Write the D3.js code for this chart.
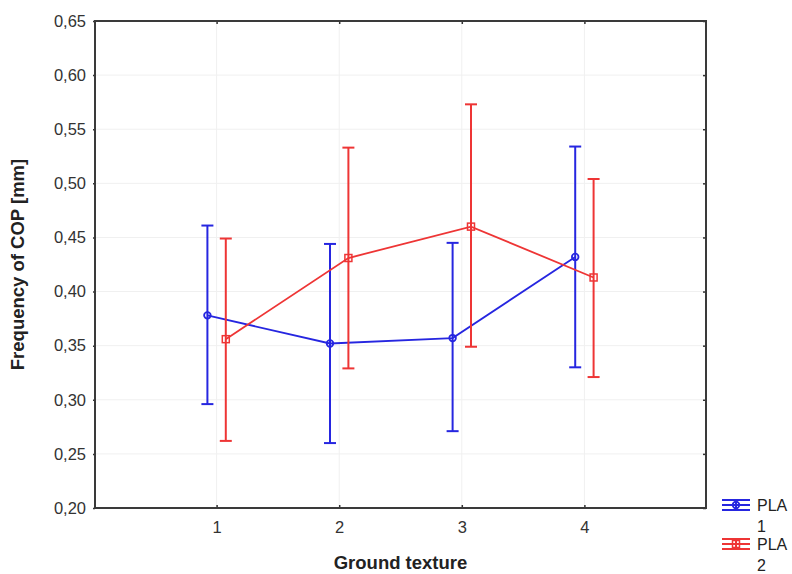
<!DOCTYPE html>
<html>
<head>
<meta charset="utf-8">
<script src="https://cdn.jsdelivr.net/npm/d3@7"></script>
<style>
  body { margin: 0; background: #fff; }
  text { font-family: "Liberation Sans", Arial, sans-serif; }
</style>
</head>
<body>
<div id="chart"></div>
<script>
// data
const categories = [1, 2, 3, 4];
const seriesNames = ['PLA\n1', 'PLA\n2'];
const pla1Mean = [0.378, 0.352, 0.357, 0.432];
const pla1Low = [0.296, 0.260, 0.271, 0.330];
const pla1High = [0.461, 0.444, 0.445, 0.534];
const pla2Mean = [0.356, 0.431, 0.460, 0.413];
const pla2Low = [0.262, 0.329, 0.349, 0.321];
const pla2High = [0.449, 0.533, 0.573, 0.504];
const yTicks = [0.20, 0.25, 0.30, 0.35, 0.40, 0.45, 0.50, 0.55, 0.60, 0.65];

const width = 792, height = 574;
const margin = { top: 21, right: 86, bottom: 66, left: 95 };

const blue = '#2626e0', red = '#ee3535';

const series = [
  { name: 'PLA 1', color: blue, shape: 'circle', offset: -0.075, mean: pla1Mean, low: pla1Low, high: pla1High },
  { name: 'PLA 2', color: red, shape: 'square', offset: 0.075, mean: pla2Mean, low: pla2Low, high: pla2High }
];

const x_scale = d3.scaleLinear()
  .domain([0, 5])
  .range([margin.left - 1, width - margin.right + 1]);
const y_scale = d3.scaleLinear()
  .domain([0.20, 0.65])
  .range([height - margin.bottom, margin.top]);

const comma = (v) => d3.format('.2f')(v).replace('.', ',');

const svg = d3.select('#chart').append('svg')
  .attr('width', width)
  .attr('height', height);

// light grid
svg.append('g')
  .selectAll('line.h')
  .data(yTicks)
  .enter().append('line')
  .attr('x1', margin.left).attr('x2', width - margin.right)
  .attr('y1', (d) => y_scale(d)).attr('y2', (d) => y_scale(d))
  .attr('stroke', '#f0f0f0');
svg.append('g')
  .selectAll('line.v')
  .data(categories)
  .enter().append('line')
  .attr('x1', (d) => x_scale(d)).attr('x2', (d) => x_scale(d))
  .attr('y1', margin.top).attr('y2', height - margin.bottom)
  .attr('stroke', '#f0f0f0');

// axes
const yAxis = svg.append('g')
  .attr('transform', 'translate(' + margin.left + ',0)')
  .call(d3.axisLeft(y_scale).tickValues(yTicks).tickFormat(comma).tickSize(2).tickPadding(7));
const yAxisR = svg.append('g')
  .attr('transform', 'translate(' + (width - margin.right) + ',0)')
  .call(d3.axisRight(y_scale).tickValues(yTicks).tickFormat('').tickSize(-3));
const xAxis = svg.append('g')
  .attr('transform', 'translate(0,' + (height - margin.bottom) + ')')
  .call(d3.axisBottom(x_scale).tickValues(categories).tickFormat(d3.format('d')).tickSize(-3).tickPadding(13));
const xAxisT = svg.append('g')
  .attr('transform', 'translate(0,' + margin.top + ')')
  .call(d3.axisTop(x_scale).tickValues(categories).tickFormat('').tickSize(-3));

[yAxis, yAxisR, xAxis, xAxisT].forEach((a) => {
  a.select('.domain').remove();
  a.selectAll('.tick line').attr('stroke', '#333').attr('stroke-width', 1.5);
  a.selectAll('.tick text').attr('fill', '#333').style('font-size', '16.5px');
});

// frame
svg.append('rect')
  .attr('x', margin.left)
  .attr('y', margin.top)
  .attr('width', width - margin.left - margin.right)
  .attr('height', height - margin.top - margin.bottom)
  .attr('fill', 'none')
  .attr('stroke', '#3a3a3a')
  .attr('stroke-width', 2);

// titles
svg.append('text')
  .attr('x', x_scale(2.5))
  .attr('y', 569)
  .attr('text-anchor', 'middle')
  .attr('font-weight', 'bold')
  .attr('fill', '#222')
  .style('font-size', '18.5px')
  .text('Ground texture');
svg.append('text')
  .attr('transform', 'translate(24,' + y_scale(0.425) + ') rotate(-90)')
  .attr('text-anchor', 'middle')
  .attr('font-weight', 'bold')
  .attr('fill', '#222')
  .style('font-size', '18.5px')
  .text('Frequency of COP [mm]');

// series
const line = d3.line()
  .x((d) => x_scale(d.x))
  .y((d) => y_scale(d.y));

series.forEach((s) => {
  const pts = categories.map((c, i) => ({ x: c + s.offset, y: s.mean[i], lo: s.low[i], hi: s.high[i] }));
  const g = svg.append('g');

  g.selectAll('line.err')
    .data(pts)
    .enter().append('line')
    .attr('x1', (d) => x_scale(d.x)).attr('x2', (d) => x_scale(d.x))
    .attr('y1', (d) => y_scale(d.lo)).attr('y2', (d) => y_scale(d.hi))
    .attr('stroke', s.color).attr('stroke-width', 2);
  ['lo', 'hi'].forEach((k) => {
    g.selectAll('line.cap' + k)
      .data(pts)
      .enter().append('line')
      .attr('x1', (d) => x_scale(d.x) - 6).attr('x2', (d) => x_scale(d.x) + 6)
      .attr('y1', (d) => y_scale(d[k])).attr('y2', (d) => y_scale(d[k]))
      .attr('stroke', s.color).attr('stroke-width', 2);
  });

  g.append('path')
    .datum(pts)
    .attr('d', line)
    .attr('fill', 'none')
    .attr('stroke', s.color)
    .attr('stroke-width', 1.8);

  if (s.shape === 'circle') {
    g.selectAll('circle')
      .data(pts)
      .enter().append('circle')
      .attr('cx', (d) => x_scale(d.x)).attr('cy', (d) => y_scale(d.y))
      .attr('r', 3.3)
      .attr('fill', 'none').attr('stroke', s.color).attr('stroke-width', 1.8);
  } else {
    g.selectAll('rect')
      .data(pts)
      .enter().append('rect')
      .attr('x', (d) => x_scale(d.x) - 3.5).attr('y', (d) => y_scale(d.y) - 3.5)
      .attr('width', 7).attr('height', 7)
      .attr('fill', 'none').attr('stroke', s.color).attr('stroke-width', 1.5);
  }
});

// legend
const legend = svg.append('g')
  .selectAll('g')
  .data(series)
  .enter().append('g')
  .attr('transform', (d, i) => 'translate(736,' + (505 + i * 39) + ')');

legend.append('line').attr('x1', -14).attr('x2', 14).attr('y1', 0).attr('y2', 0)
  .attr('stroke', (d) => d.color).attr('stroke-width', 2);
legend.append('line').attr('x1', -14).attr('x2', 14).attr('y1', -5).attr('y2', -5)
  .attr('stroke', (d) => d.color).attr('stroke-width', 2);
legend.append('line').attr('x1', -14).attr('x2', 14).attr('y1', 5).attr('y2', 5)
  .attr('stroke', (d) => d.color).attr('stroke-width', 2);
legend.append('line').attr('x1', 0).attr('x2', 0).attr('y1', -5).attr('y2', 5)
  .attr('stroke', (d) => d.color).attr('stroke-width', 2);
legend.filter((d) => d.shape === 'circle').append('circle')
  .attr('r', 3.3).attr('fill', 'none')
  .attr('stroke', (d) => d.color).attr('stroke-width', 1.8);
legend.filter((d) => d.shape === 'square').append('rect')
  .attr('x', -3.5).attr('y', -3.5).attr('width', 7).attr('height', 7)
  .attr('fill', 'none')
  .attr('stroke', (d) => d.color).attr('stroke-width', 1.5);

legend.each(function (d, i) {
  const lines = seriesNames[i].split('\n');
  d3.select(this).selectAll('text')
    .data(lines)
    .enter().append('text')
    .attr('x', 21)
    .attr('y', (t, j) => 6 + j * 21)
    .attr('fill', '#222')
    .style('font-size', '16px')
    .text((t) => t);
});
</script>
</body>
</html>
